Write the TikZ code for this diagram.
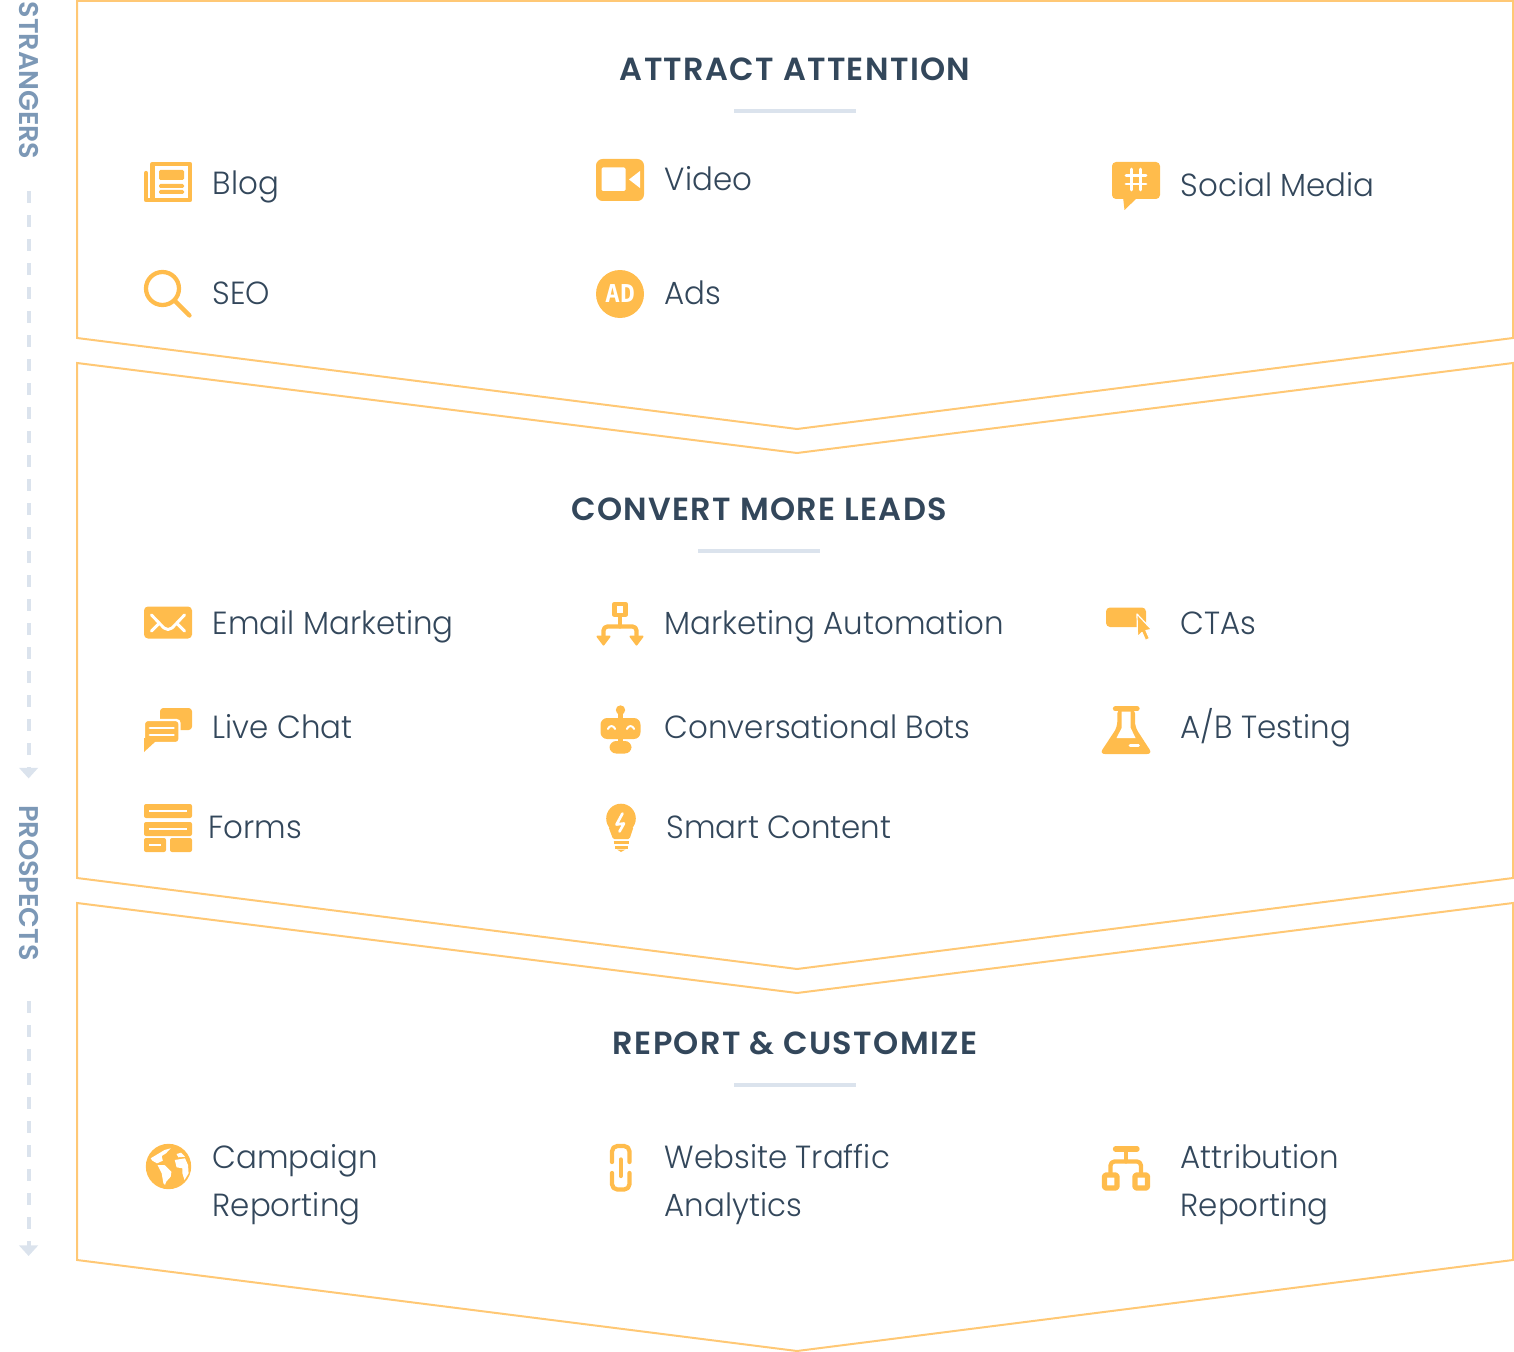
\documentclass[tikz,border=0pt]{standalone}
\usepackage{fontspec}
\setmainfont{Poppins}[UprightFont=* Light, BoldFont=* SemiBold, FakeStretch=0.965]
\newfontfamily\headfont{Poppins}[UprightFont=* SemiBold, LetterSpace=4.2]
\newfontfamily\sidefont{Poppins}[UprightFont=* SemiBold]
\newfontfamily\adfont{DejaVu Sans Mono}
\usetikzlibrary{arrows.meta}

\definecolor{panelorange}{HTML}{FFC875}
\definecolor{iconorange}{HTML}{FFBC4C}
\definecolor{textdark}{HTML}{33475B}
\definecolor{sideblue}{HTML}{7C98B6}
\definecolor{softrule}{HTML}{DBE3ED}

\tikzset{
    panel/.style={draw=panelorange, line width=1.5pt},
    heading/.style={text=textdark, anchor=base, inner sep=0pt, font={\fontsize{24}{30}\headfont}},
    headrule/.style={draw=softrule, line width=3pt},
    itemlabel/.style={text=textdark, anchor=base west, inner sep=0pt, align=left, font={\fontsize{24}{36}\selectfont}},
    sidelabel/.style={text=sideblue, rotate=-90, inner sep=0pt, font={\fontsize{20.3}{24}\sidefont}},
    sidedash/.style={draw=softrule, line width=3pt, dash pattern=on 9pt off 9pt,
        -{Triangle[width=14pt, length=8pt, fill=softrule]}},
    iconfill/.style={fill=iconorange},
    iconline/.style={draw=iconorange, line width=3.2pt, line cap=round, line join=round},
    iconcut/.style={draw=white, line width=2.2pt, line cap=round, line join=round},
}

\begin{document}
\begin{tikzpicture}[x=0.75pt, y=-0.75pt]
    \useasboundingbox (0,0) rectangle (1514,1352);

    % --- PANELS ---
    \draw[panel] (77,1) -- (1513,1) -- (1513,338) -- (797,429) -- (77,338) -- cycle;
    \draw[panel] (77,363) -- (797,453) -- (1513,363) -- (1513,878) -- (797,969) -- (77,878) -- cycle;
    \draw[panel] (77,903) -- (797,993) -- (1513,903) -- (1513,1260) -- (797,1351) -- (77,1260) -- cycle;

    % --- HEADINGS ---
    \node[heading] (attract) at (795,80.5) {ATTRACT ATTENTION};
    \node[heading] (convert) at (759,520) {CONVERT MORE LEADS};
    \node[heading] (report) at (795,1054) {REPORT \& CUSTOMIZE};
    \draw[headrule] (734,111) -- (856,111);
    \draw[headrule] (698,551) -- (820,551);
    \draw[headrule] (734,1085) -- (856,1085);

    % --- SIDE LABELS ---
    \node[sidelabel] (strangers) at (28.6,80.5) {STRANGERS};
    \node[sidelabel] (prospects) at (28.6,883) {PROSPECTS};
    \coordinate (funnelend) at (28.6,1256);
    \draw[sidedash, shorten <=23.5pt, shorten >=20pt] (strangers.east) -- (prospects.west);
    \draw[sidedash, shorten <=30pt] (prospects.east) -- (funnelend);

    % --- ITEM LABELS ---
    \node[itemlabel] (blog) at (212.5,194.5) {Blog};
    \node[itemlabel] (video) at (664.5,190.5) {Video};
    \node[itemlabel] (social) at (1180.5,196.5) {Social Media};
    \node[itemlabel] (seo) at (212.5,304) {SEO};
    \node[itemlabel] (ads) at (664.5,304) {Ads};
    \node[itemlabel] (email) at (212.5,634) {Email Marketing};
    \node[itemlabel] (automation) at (664.5,634) {Marketing Automation};
    \node[itemlabel] (ctas) at (1180.5,634) {CTAs};
    \node[itemlabel] (chat) at (212.5,738) {Live Chat};
    \node[itemlabel] (bots) at (664.5,738) {Conversational Bots};
    \node[itemlabel] (abtest) at (1180.5,738) {A/B Testing};
    \node[itemlabel] (forms) at (208.5,838) {Forms};
    \node[itemlabel] (smart) at (666.5,838) {Smart Content};
    \node[itemlabel, anchor=west] (campaign) at (212.5,1184.5) {Campaign\\Reporting};
    \node[itemlabel, anchor=west] (traffic) at (664.5,1184.5) {Website Traffic\\Analytics};
    \node[itemlabel, anchor=west] (attribution) at (1180.5,1184.5) {Attribution\\Reporting};

    % =========================================
    % ICONS, FIRST PANEL
    % =========================================
    % Blog
    \draw[iconline] (152.5,164) rectangle (190,200);
    \draw[iconline] (146,173) -- (146,200) -- (152,200);
    \fill[iconfill, rounded corners=1pt] (159,170) rectangle (184,180);
    \fill[iconfill, rounded corners=1pt] (159,184) rectangle (184,188);
    \fill[iconfill, rounded corners=1pt] (159,190) rectangle (184,194);

    % Video
    \fill[iconfill, rounded corners=5pt] (596,159) rectangle (644,201);
    \fill[white, rounded corners=1pt] (601.5,167.5) rectangle (625.5,191);
    \fill[white] (629,179.5) -- (640,171) -- (640,188) -- cycle;

    % Social Media
    \fill[iconfill, rounded corners=3pt] (1112,162) rectangle (1160,199);
    \fill[iconfill] (1123,197) -- (1124.5,210) -- (1138,197) -- cycle;
    \draw[iconcut] (1131.7,169) -- (1131.7,190) (1140.7,169) -- (1140.7,190)
        (1126,175.5) -- (1146,175.5) (1126,184) -- (1146,184);

    % SEO
    \draw[iconline] (162.5,288.5) circle (16.5);
    \draw[iconline] (175,301) -- (189.5,315.5);

    % Ads
    \fill[iconfill] (620,294) circle (24);
    \node[text=white, inner sep=0pt, font={\fontsize{18.5}{20}\adfont\bfseries}] (adtag) at (620,294) {AD};

    % =========================================
    % ICONS, SECOND PANEL
    % =========================================
    % Email Marketing
    \fill[iconfill, rounded corners=3pt] (144,606.5) rectangle (192,638.5);
    \draw[iconcut] (151.5,615) -- (164,628) -- (168,629.5) -- (172,628) -- (184.5,615)
        (151.5,631) -- (159,623.5) (184.5,631) -- (177,623.5);

    % Marketing Automation
    \draw[iconline] (614.5,604) rectangle (625.5,615);
    \draw[iconline] (620,616) -- (620,626.5);
    \draw[iconline, rounded corners=3pt] (603.5,636) -- (603.5,626.5) -- (636.5,626.5) -- (636.5,636);
    \fill[iconorange, draw=iconorange, line width=1.5pt, line join=round] (597.5,636.5) -- (609.5,636.5) -- (603.5,644.5) -- cycle;
    \fill[iconorange, draw=iconorange, line width=1.5pt, line join=round] (630.5,636.5) -- (642.5,636.5) -- (636.5,644.5) -- cycle;

    % CTAs
    \fill[iconfill, rounded corners=3pt] (1106,607.5) rectangle (1146,627);
    \fill[iconorange, draw=white, line width=0.9pt, line join=round] (1137,614) -- (1137.5,637) -- (1142,632.5)
        -- (1145.5,640.5) -- (1149.5,638.5) -- (1146,630.5) -- (1151.5,629.5) -- cycle;

    % Live Chat
    \fill[iconfill, rounded corners=2.5pt] (160,708) rectangle (192,730);
    \fill[iconorange, draw=white, line width=1.8pt, rounded corners=2.5pt] (144,720) rectangle (179.5,743);
    \fill[iconfill] (144,738) -- (144,752) -- (156,741) -- cycle;
    \draw[iconcut] (150,728) -- (173.5,728) (150,735) -- (173.5,735);

    % Conversational Bots
    \fill[iconfill] (620.5,710) circle (4.7);
    \draw[iconline] (620.5,712) -- (620.5,742);
    \fill[iconfill, rounded corners=5pt] (600.5,718) rectangle (640.5,739);
    \fill[iconfill, rounded corners=5pt] (609.5,741) rectangle (631.5,753.5);
    \draw[iconcut, line width=1.5pt, rounded corners=2pt] (608,729) -- (609,726) -- (614,726) -- (615,729);
    \draw[iconcut, line width=1.5pt, rounded corners=2pt] (627,729) -- (628,726) -- (633,726) -- (634,729);

    % A/B Testing
    \draw[iconline, line width=4pt] (1115.5,708.8) -- (1137,708.8);
    \fill[iconfill, rounded corners=4pt] (1117.3,708) -- (1135,708) -- (1135,727) -- (1152.5,754)
        -- (1099.5,754) -- (1117.3,727) -- cycle;
    \fill[white] (1121.7,711.7) -- (1130.7,711.7) -- (1130.7,728) -- (1135.5,738)
        -- (1116.5,738) -- (1121.7,728) -- cycle;
    \draw[iconcut] (1130,745.5) -- (1138.5,745.5);

    % Forms
    \fill[iconfill, rounded corners=1.5pt] (144,804) rectangle (192,818);
    \fill[iconfill, rounded corners=1.5pt] (144,822) rectangle (192,836);
    \fill[iconfill, rounded corners=1.5pt] (144,838) rectangle (166,852);
    \fill[iconfill, rounded corners=1.5pt] (170,838) rectangle (192,852);
    \draw[iconcut, line cap=butt] (149,811) -- (187,811) (149,829) -- (187,829) (149,845) -- (161,845);

    % Smart Content
    \fill[iconfill] (621,818.5) circle (14.8);
    \fill[iconfill, rounded corners=1pt] (608.5,827) -- (633.5,827) -- (629.5,839) -- (613,839) -- cycle;
    \draw[iconline, line width=2pt, line cap=butt] (613.5,842.5) -- (629,842.5) (615,847.2) -- (627.5,847.2);
    \fill[iconfill] (617,849.5) -- (625.5,849.5) -- (621,852) -- cycle;
    \draw[iconcut, line width=2pt] (622.5,813.5) -- (616.5,824.5) -- (624,823.5) -- (619.5,831.5);

    % =========================================
    % ICONS, THIRD PANEL
    % =========================================
    % Campaign Reporting
    \fill[iconfill] (168.5,1166.5) circle (22.7);
    \fill[white] (150.7,1158.3) -- (164.5,1150) -- (170.7,1148.3) -- (166,1153.3) -- (161.7,1156)
        -- (162.8,1160.7) -- (157,1163.3) -- (152.4,1160.7) -- cycle;
    \fill[white] (157.6,1165) -- (164.5,1165) -- (171.4,1171.7) -- (170.7,1176.7) -- (166.2,1181.7)
        -- (165,1185) -- (163.4,1183.3) -- (161.7,1173.3) -- cycle;
    \fill[white] (174.8,1160) -- (185,1158.3) -- (188,1165) -- (188.6,1173.3) -- (184.5,1180)
        -- (182.4,1173.3) -- (182.4,1168.3) -- (176.6,1167.3) -- cycle;
    \fill[white] (176.6,1154) -- (181,1152.7) -- (185,1156.7) -- (178.3,1157.3) -- cycle;

    % Website Traffic
    \draw[iconline, rounded corners=4pt] (612,1162) -- (612,1146) -- (629.5,1146) -- (629.5,1162);
    \draw[iconline, rounded corners=4pt] (612,1173) -- (612,1189.5) -- (629.5,1189.5) -- (629.5,1173);
    \draw[iconline] (620.7,1159.5) -- (620.7,1176);

    % Attribution Reporting
    \draw[iconline, line width=4pt] (1115.5,1149) -- (1137,1149);
    \draw[iconline] (1126,1149) -- (1126,1161.5);
    \draw[iconline, rounded corners=3pt] (1110.5,1173) -- (1110.5,1161.5) -- (1141,1161.5) -- (1141,1173);
    \draw[iconline, line width=4pt, rounded corners=1pt] (1104.5,1175) rectangle (1117,1188);
    \draw[iconline, line width=4pt, rounded corners=1pt] (1135,1175) rectangle (1147.5,1188);
\end{tikzpicture}
\end{document}
